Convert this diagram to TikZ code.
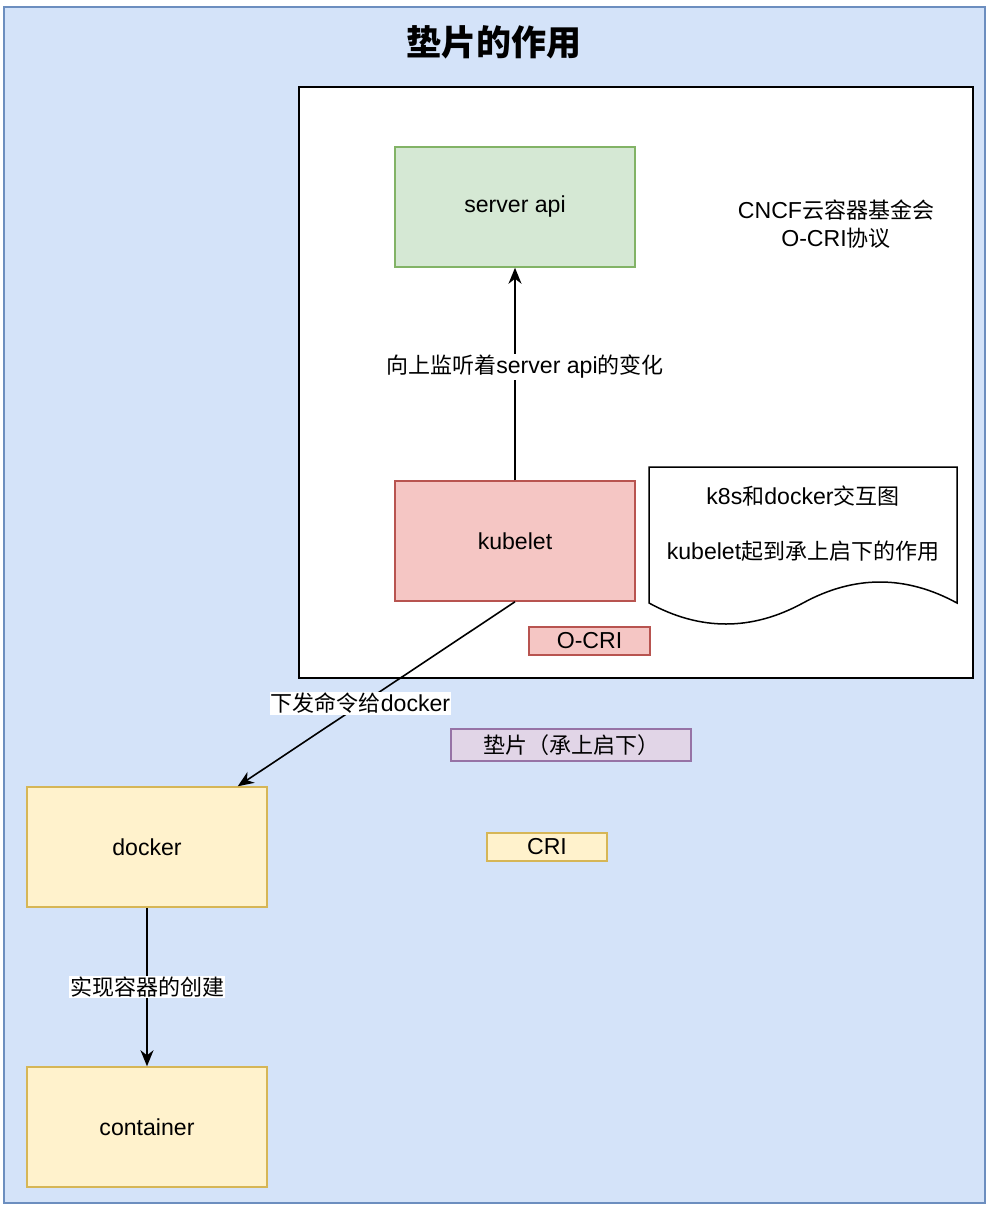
\documentclass[tikz,border=0pt]{standalone}
\usepackage{fontspec}
\setmainfont{Liberation Sans}[Scale=1.05]
\newfontfamily\cjk{Noto Sans CJK SC}
\newcommand\zhs[1]{{\cjk #1}}
\usetikzlibrary{arrows.meta,calc}
\definecolor{bluefill}{HTML}{D4E3F9}
\definecolor{bluestroke}{HTML}{6C8EBF}
\definecolor{greenfill}{HTML}{D5E8D4}
\definecolor{greenstroke}{HTML}{82B366}
\definecolor{redfill}{HTML}{F5C6C4}
\definecolor{redstroke}{HTML}{B85450}
\definecolor{yellowfill}{HTML}{FFF2CC}
\definecolor{yellowstroke}{HTML}{D6B656}
\definecolor{purplefill}{HTML}{E1D5E7}
\definecolor{purplestroke}{HTML}{9673A6}
\begin{document}
\begin{tikzpicture}[x=1pt,y=-1pt,
  txt/.style={font=\fontsize{22}{27.5}\selectfont},
  box/.style={draw, line width=1.5pt, minimum width=240pt, minimum height=120pt, inner sep=0pt, txt},
  tagbox/.style={draw, line width=1.5pt, inner sep=0pt, txt},
  lbl/.style={fill=white, inner sep=1pt, txt},
  arr/.style={-{Stealth[length=16pt,width=13pt,inset=5pt]}, line width=1.6pt}
]
\useasboundingbox (0,0) rectangle (990,1210);
% outer frame
\node[draw=bluestroke, fill=bluefill, line width=1.5pt, minimum width=981pt, minimum height=1196pt, inner sep=0pt] (outer) at (494.5,605) {};
\node[font=\cjk\bfseries\fontsize{35}{40}\selectfont] (title) at (494,42) {垫片的作用};
% white region
\node[draw=black, fill=white, line width=2pt, minimum width=674pt, minimum height=591pt, inner sep=0pt] (region) at (636,382.5) {};
% boxes
\node[box, draw=greenstroke, fill=greenfill] (server) at (515,207) {server api};
\node[box, draw=redstroke, fill=redfill] (kubelet) at (515,541) {kubelet};
\node[box, draw=yellowstroke, fill=yellowfill] (docker) at (147,847) {docker};
\node[box, draw=yellowstroke, fill=yellowfill] (container) at (147,1127) {container};
% CNCF text
\node[txt, align=center] (cncf) at (836,224) {CNCF\zhs{云容器基金会}\\O-CRI\zhs{协议}};
% document shape
\draw[line width=1.5pt, fill=white] (649,467) -- (957,467) -- (957,603)
  .. controls (905.7,575) and (854.3,575) .. (803,603)
  .. controls (751.7,631) and (700.3,631) .. (649,603) -- cycle;
\node[txt, align=center] (doctext) at (803,523.5) {k8s\zhs{和}docker\zhs{交互图}\\[27.5pt]kubelet\zhs{起到承上启下的作用}};
% tags
\node[tagbox, draw=redstroke, fill=redfill, minimum width=121pt, minimum height=28pt] (ocri) at (589.5,641) {O-CRI};
\node[tagbox, draw=purplestroke, fill=purplefill, minimum width=240pt, minimum height=32pt] (shim) at (571,745) {\zhs{垫片（承上启下）}};
\node[tagbox, draw=yellowstroke, fill=yellowfill, minimum width=120pt, minimum height=28pt] (cri) at (547,847) {CRI};
% connectors
\draw[arr] (kubelet.north) -- node[lbl, xshift=10pt, yshift=7pt] {\zhs{向上监听着}server api\zhs{的变化}} (server.south);
\coordinate (dtop) at ([xshift=-30pt]docker.north east);
\draw[arr] (kubelet.south) -- node[lbl, pos=0.55, xshift=-2pt] {\zhs{下发命令给}docker} (dtop);
\draw[arr] (docker.south) -- node[lbl] {\zhs{实现容器的创建}} (container.north);
\end{tikzpicture}
\end{document}
